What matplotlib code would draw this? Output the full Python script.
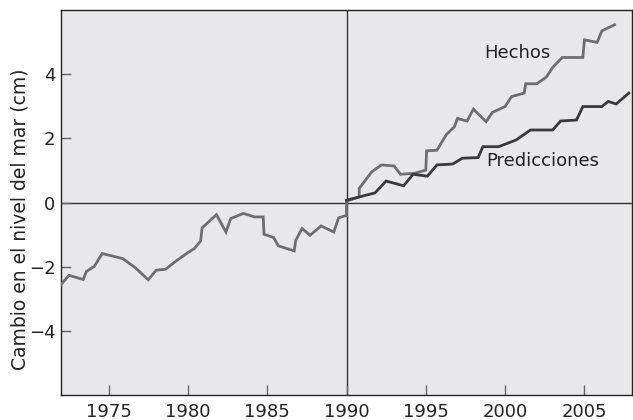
import matplotlib
matplotlib.use("Agg")
import matplotlib.pyplot as plt

# observed sea level change before 1990
past_years = [1972.0, 1972.5, 1973.4, 1973.6, 1974.1, 1974.6, 1975.9, 1976.7, 1977.5,
              1978.0, 1978.6, 1979.1, 1980.0, 1980.4, 1980.8, 1980.9, 1981.8, 1982.4,
              1982.7, 1983.5, 1984.2, 1984.75, 1984.8, 1985.4, 1985.7, 1986.7, 1986.8,
              1987.2, 1987.7, 1988.4, 1989.2, 1989.5, 1990.0]
past_vals = [-2.56, -2.27, -2.40, -2.15, -1.99, -1.59, -1.75, -2.04, -2.41,
             -2.11, -2.08, -1.88, -1.56, -1.44, -1.20, -0.79, -0.38, -0.92,
             -0.50, -0.34, -0.45, -0.45, -0.99, -1.09, -1.35, -1.51, -1.18,
             -0.81, -1.02, -0.73, -0.92, -0.48, -0.40]

# observed ("Hechos") after 1990
obs_years = [1990.0, 1990.0, 1990.8, 1990.8, 1991.6, 1992.2, 1993.0, 1993.4, 1994.3,
             1995.0, 1995.05, 1995.7, 1996.3, 1996.8, 1997.0, 1997.6, 1998.0, 1998.8,
             1999.2, 2000.0, 2000.4, 2001.2, 2001.3, 2002.0, 2002.6, 2003.0, 2003.6,
             2004.9, 2005.0, 2005.8, 2006.1, 2006.9]
obs_vals = [-0.40, 0.05, 0.17, 0.44, 0.96, 1.17, 1.14, 0.88, 0.91,
            1.01, 1.61, 1.63, 2.12, 2.36, 2.62, 2.54, 2.91, 2.52,
            2.81, 2.99, 3.30, 3.41, 3.70, 3.70, 3.91, 4.21, 4.52,
            4.52, 5.07, 4.99, 5.35, 5.54]

# model predictions ("Predicciones")
pred_years = [1990.0, 1991.8, 1992.5, 1993.6, 1994.2, 1995.1, 1995.7, 1996.7, 1997.3,
              1998.3, 1998.6, 1999.6, 2000.7, 2001.6, 2003.0, 2003.5, 2004.5, 2004.9,
              2006.1, 2006.5, 2007.0, 2007.8]
pred_vals = [0.07, 0.30, 0.67, 0.52, 0.88, 0.82, 1.17, 1.20, 1.38,
             1.40, 1.74, 1.74, 1.95, 2.26, 2.26, 2.54, 2.57, 2.99,
             2.99, 3.15, 3.07, 3.41]

x_ticks = [1975, 1980, 1985, 1990, 1995, 2000, 2005]
y_ticks = [-4, -2, 0, 2, 4]
y_tick_labels = ["\u22124", "\u22122", "0", "2", "4"]

fig = plt.figure(figsize=(6.33, 4.2), dpi=100)
ax = fig.add_axes([61 / 633, 25 / 420, 571 / 633, 385 / 420])
ax.set_facecolor("#e8e8ea")

ax.axhline(0, color="#333333", lw=1.0, zorder=1)
ax.axvline(1990, color="#333333", lw=1.0, zorder=1)

gray = "#6e6e6e"
dark = "#3a3a3a"
ax.plot(past_years, past_vals, color=gray, lw=2.0, solid_joinstyle="miter", zorder=3)
ax.plot(obs_years, obs_vals, color=gray, lw=2.0, solid_joinstyle="miter", zorder=3)
ax.plot(pred_years, pred_vals, color=dark, lw=2.0, solid_joinstyle="miter", zorder=4)

ax.text(2000.8, 4.65, "Hechos", fontsize=13, color="#222222", ha="center", va="center")
ax.text(2002.4, 1.28, "Predicciones", fontsize=13, color="#222222", ha="center", va="center")

ax.set_xlim(1972, 2008)
ax.set_ylim(-6, 6)
ax.set_xticks(x_ticks)
ax.set_yticks(y_ticks)
ax.set_yticklabels(y_tick_labels)
ax.tick_params(direction="in", length=7, width=1, color="#666666",
               labelsize=13, labelcolor="#222222")
ax.tick_params(axis="x", pad=6)
ax.tick_params(axis="y", pad=4)
ax.set_ylabel("Cambio en el nivel del mar (cm)", fontsize=13.5, color="#222222")
ax.yaxis.set_label_coords(-0.056, 0.457)

for s in ax.spines.values():
    s.set_color("#222222")
    s.set_linewidth(1.0)

fig.savefig("out.png", dpi=100)
